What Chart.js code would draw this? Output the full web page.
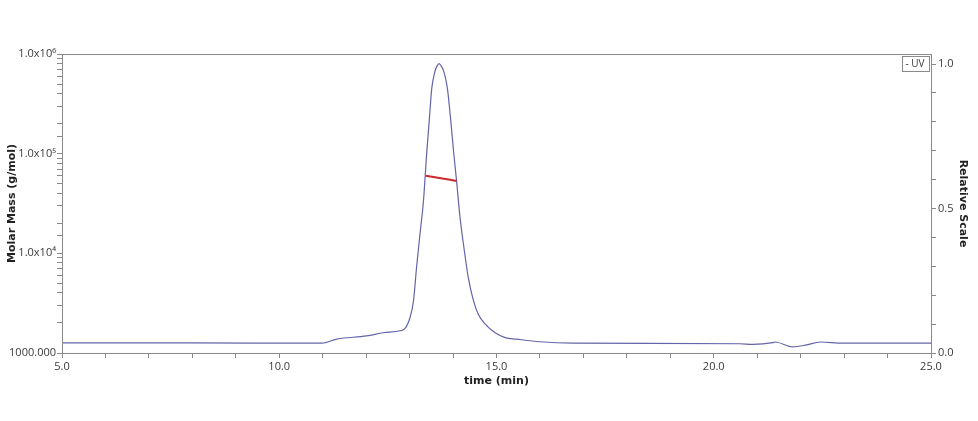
<!DOCTYPE html>
<html>
<head>
<meta charset="utf-8">
<script src="https://cdn.jsdelivr.net/npm/chart.js@4.4.1/dist/chart.umd.min.js"></script>
<style>
  html, body { margin: 0; padding: 0; background: #fff; }
</style>
</head>
<body>
<canvas id="chart-sec" width="978" height="421"></canvas>
<script>
// UV trace (relative scale)
var uvTime = [5.0, 8.0, 10.98, 11.32, 12.01, 12.39, 12.78, 12.89, 13.01, 13.09, 13.16, 13.24, 13.32, 13.39, 13.45, 13.51, 13.58, 13.63, 13.68, 13.73, 13.79, 13.87, 13.95, 14.01, 14.08, 14.16, 14.26, 14.35, 14.47, 14.58, 14.74, 14.97, 15.20, 15.46, 16.0, 16.76, 18.5, 20.6, 20.9, 21.36, 21.41, 21.82, 22.14, 22.45, 22.97, 25.0]
var uvRel = [0.035, 0.035, 0.034, 0.048, 0.059, 0.070, 0.077, 0.084, 0.123, 0.181, 0.296, 0.413, 0.528, 0.684, 0.800, 0.916, 0.973, 0.993, 1.002, 0.993, 0.973, 0.916, 0.800, 0.701, 0.597, 0.470, 0.354, 0.262, 0.181, 0.134, 0.100, 0.070, 0.053, 0.048, 0.039, 0.034, 0.033, 0.032, 0.030, 0.036, 0.038, 0.021, 0.028, 0.038, 0.034, 0.034]

// molar mass across the peak (g/mol)
var massTime = [13.37, 13.55, 13.72, 13.90, 14.08]
var massValue = [60000, 58400, 56700, 55000, 53200]

// tick labels
var xMajor = [5, 10, 15, 20, 25]
var massLabels = { 1000: '1000.000', 10000: '1.0x10\u2074', 100000: '1.0x10\u2075', 1000000: '1.0x10\u2076' }
var relLabels = [0.0, 0.5, 1.0]

var uvPoints = uvTime.map(function (t, i) { return { x: t, y: uvRel[i] } })
var massPoints = massTime.map(function (t, i) { return { x: t, y: massValue[i] } })

var AXIS_COLOR = '#8a8a8a'
var TEXT_COLOR = '#3a3a3a'

// frame round the plot and the UV legend box
var framePlugin = {
  id: 'frame',
  afterDraw: function (chart) {
    var ctx = chart.ctx
    var a = chart.chartArea
    ctx.save()
    ctx.strokeStyle = AXIS_COLOR
    ctx.lineWidth = 1
    ctx.strokeRect(Math.round(a.left) + 0.5, Math.round(a.top) + 0.5, Math.round(a.right - a.left), Math.round(a.bottom - a.top))
    // legend
    var bw = 27, bh = 15
    var bx = Math.round(a.right) - bw - 2 + 0.5
    var by = Math.round(a.top) + 2 + 0.5
    ctx.strokeRect(bx, by, bw, bh)
    ctx.fillStyle = TEXT_COLOR
    ctx.font = '10px "Open Sans"'
    ctx.textBaseline = 'middle'
    ctx.textAlign = 'left'
    ctx.fillText('- UV', bx + 3, by + bh / 2 + 0.5)
    ctx.restore()
  },
}

var ctx = document.getElementById('chart-sec').getContext('2d')

var ChartSEC = new Chart(ctx, {
  type: 'line',
  data: {
    datasets: [
      {
        label: 'Molar Mass',
        data: massPoints,
        yAxisID: 'y',
        borderColor: '#cc2a2a',
        borderWidth: 2,
        pointRadius: 0,
        tension: 0,
        fill: false,
      },
      {
        label: 'UV',
        data: uvPoints,
        yAxisID: 'y2',
        borderColor: '#6464a8',
        borderWidth: 1.2,
        pointRadius: 0,
        cubicInterpolationMode: 'monotone',
        fill: false,
      },
    ],
  },
  options: {
    responsive: false,
    animation: false,
    layout: {
      padding: { top: 54, left: 0, right: 0, bottom: 33 },
    },
    plugins: {
      legend: { display: false },
      tooltip: { enabled: false },
    },
    scales: {
      x: {
        type: 'linear',
        position: 'bottom',
        min: 5,
        max: 25,
        afterFit: function (scale) { scale.height = 35 },
        grid: {
          display: true,
          drawOnChartArea: false,
          drawTicks: true,
          tickLength: 5,
          tickColor: AXIS_COLOR,
        },
        border: { display: false },
        ticks: {
          stepSize: 1,
          autoSkip: false,
          maxRotation: 0,
          padding: 2,
          color: TEXT_COLOR,
          font: { size: 11, family: 'Open Sans' },
          callback: function (v) { return xMajor.indexOf(v) >= 0 ? v.toFixed(1) : '' },
        },
        title: {
          display: true,
          text: 'time (min)',
          color: '#222',
          padding: { top: 0, bottom: 0 },
          font: { size: 11, family: 'DejaVu Sans', weight: 'bold' },
        },
      },
      y: {
        type: 'logarithmic',
        position: 'left',
        min: 1000,
        max: 1000000,
        afterFit: function (scale) { scale.width = 62 },
        grid: {
          display: true,
          drawOnChartArea: false,
          drawTicks: true,
          tickLength: 5,
          tickColor: AXIS_COLOR,
        },
        border: { display: false },
        ticks: {
          autoSkip: false,
          padding: 1,
          color: TEXT_COLOR,
          font: { size: 11, family: 'Open Sans' },
          callback: function (v) { return massLabels[v] || '' },
        },
        title: {
          display: true,
          text: 'Molar Mass (g/mol)',
          color: '#222',
          padding: { top: 6, bottom: 0 },
          font: { size: 11, family: 'DejaVu Sans', weight: 'bold' },
        },
      },
      y2: {
        type: 'linear',
        position: 'right',
        min: 0,
        max: 1.035,
        afterFit: function (scale) { scale.width = 47 },
        grid: {
          display: true,
          drawOnChartArea: false,
          drawTicks: true,
          tickLength: 5,
          tickColor: AXIS_COLOR,
        },
        border: { display: false },
        ticks: {
          stepSize: 0.1,
          includeBounds: false,
          autoSkip: false,
          padding: 2,
          color: TEXT_COLOR,
          font: { size: 11, family: 'Open Sans' },
          callback: function (v) {
            var r = Math.round(v * 10) / 10
            return relLabels.indexOf(r) >= 0 ? r.toFixed(1) : ''
          },
        },
        title: {
          display: true,
          text: 'Relative Scale',
          color: '#222',
          padding: { top: 9, bottom: 0 },
          font: { size: 11, family: 'DejaVu Sans', weight: 'bold' },
        },
      },
    },
  },
  plugins: [framePlugin],
})

window.ChartSEC = ChartSEC
</script>
</body>
</html>
